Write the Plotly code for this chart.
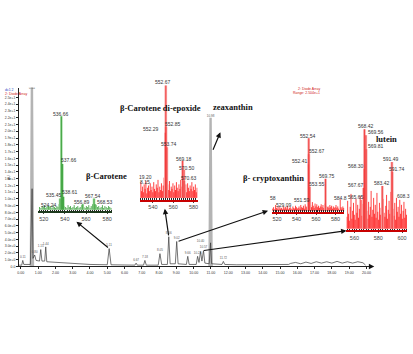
import plotly.graph_objects as go

W, H = 413, 354


def X(px):
    return px / W


def Y(py):
    return 1 - py / H


# ---------------- main chromatogram (time in min, signal) ----------------
chrom_time = [-0.10, 0.05, 0.11, 0.17, 0.55, 0.65, 0.70, 0.80, 0.88, 1.08, 1.15, 1.22,
              1.38, 1.44, 1.50, 2.0, 3.0, 4.0, 5.00, 5.11, 5.22, 6.0, 6.60, 6.67, 6.74,
              7.10, 7.18, 7.26, 7.95, 8.05, 8.15, 8.48, 8.56, 8.64, 8.94, 9.02, 9.10,
              9.58, 9.66, 9.74, 10.15, 10.23, 10.31, 10.40, 10.48, 10.57, 10.65, 10.90,
              10.98, 11.04, 11.64, 11.72, 11.80, 12.5, 13.5, 14.5, 15.5, 15.6, 15.9,
              16.2, 16.5, 16.8, 17.1, 17.4, 17.7, 18.0, 18.3, 18.6, 18.9, 19.2, 19.5,
              19.8, 19.95]
chrom_signal = [0.2, 0.2, 0.9, 0.3, 0.3, 11.5, 1.2, 1.7, 0.9, 0.8, 2.5, 0.8,
                0.8, 2.9, 0.7, 0.6, 0.45, 0.3, 0.25, 2.65, 0.25, 0.2, 0.2, 0.5, 0.2,
                0.2, 0.9, 0.2, 0.2, 1.9, 0.3, 0.3, 4.4, 0.4, 0.4, 3.7, 0.4,
                0.3, 1.5, 0.3, 0.3, 1.5, 0.6, 2.2, 0.8, 2.35, 0.5, 0.4,
                3.5, 0.4, 0.3, 0.75, 0.3, 0.25, 0.25, 0.25, 0.3, 0.45, 0.6,
                0.4, 0.65, 0.45, 0.7, 0.5, 0.7, 0.5, 0.75, 0.5, 0.7, 0.5, 0.7,
                0.55, 0.2]
# tall, saturated peaks drawn in grey
grey_time = [0.58, 0.64, 0.70, None, 10.92, 10.98, 11.04]
grey_signal = [0, 27, 0, None, 0, 22, 0]
peak_rt = [0.11, 0.64, 0.80, 1.15, 1.44, 5.11, 6.67, 7.18, 8.05, 8.56, 9.02, 9.66,
           10.23, 10.40, 10.57, 10.98, 11.72]
peak_h = [0.9, 25.9, 1.7, 2.5, 2.9, 2.65, 0.5, 0.9, 1.9, 4.4, 3.7, 1.5,
          1.5, 2.2, 2.35, 22, 0.75]
# vertical nudge of crowded retention-time labels (style only)
peak_label_lift = [0.45, 0.45, 0.45, 0.45, 0.45, 0.45, 0.45, 0.45, 0.45, 0.45, 0.45, 0.45,
                   0.45, 1.5, 0.45, 0.2, 0.45]

# ---------------- inset 1: beta-carotene (green) ----------------
g_mz = [524.24, 535.45, 536.66, 537.66, 538.61, 556.89, 567.54, 568.53]
g_h = [4, 12, 100, 49, 14, 6, 12, 6]
g_noise_mz = [516.0, 517.3, 518.5, 519.6, 520.8, 521.9, 523.0, 525.5, 526.6, 527.8,
              528.9, 530.1, 531.2, 532.4, 533.5, 534.5, 539.6, 540.7, 541.9, 543.0,
              544.2, 545.3, 546.5, 547.6, 548.8, 549.9, 551.1, 552.2, 553.4, 554.5,
              555.7, 558.0, 559.2, 560.3, 561.5, 562.6, 563.8, 564.9, 566.1, 569.7,
              570.9, 572.0, 573.2, 574.3, 575.5, 576.6, 577.8, 579.0, 580.1, 581.3,
              582.4, 583.6]
g_noise_h = [3, 2, 4, 3, 5, 2, 3, 3, 4, 2,
             5, 3, 2, 4, 3, 6, 4, 3, 2, 5,
             3, 4, 2, 3, 5, 2, 3, 4, 2, 3,
             5, 3, 2, 4, 3, 5, 2, 4, 6, 5,
             3, 4, 2, 3, 5, 2, 4, 3, 2, 4,
             3, 2]
g_lab = ["536.66", "537.66", "535.45", "538.61", "524.24", "556.89", "567.54", "568.53"]
g_lab_x = [536.8, 544.3, 529.3, 545.3, 524.7, 556.5, 566.8, 578.1]
g_lab_y = [102, 53, 16, 19, 5.3, 8.5, 15, 8.5]

# ---------------- inset 2: beta-carotene di-epoxide (red) ----------------
d_mz = [552.29, 552.67, 552.85, 553.74, 569.18, 570.50, 570.63]
d_h = [58, 100, 63, 45, 33, 25, 15]
d_noise_mz = [528.15, 528.9, 529.7, 530.6, 531.4, 532.3, 533.1, 534.0, 534.8, 535.7,
              536.5, 537.4, 538.2, 539.1, 539.9, 540.8, 541.6, 542.5, 543.3, 544.2,
              545.0, 545.9, 546.7, 547.6, 548.4, 549.3, 550.1, 551.0, 551.6, 554.6,
              555.4, 556.3, 557.1, 558.0, 558.8, 559.7, 560.5, 561.4, 562.2, 563.1,
              563.9, 564.8, 565.6, 566.5, 567.3, 568.2, 571.5, 572.4, 573.2, 574.1,
              574.9, 575.8, 576.6, 577.5, 578.3, 579.2, 580.0, 580.9, 581.7, 582.6,
              583.4]
d_noise_h = [14, 6, 10, 5, 12, 8, 15, 4, 9, 11,
             6, 13, 7, 10, 5, 14, 8, 6, 12, 9,
             16, 5, 10, 7, 13, 6, 11, 18, 9, 12,
             7, 15, 6, 10, 8, 13, 5, 11, 7, 14,
             9, 6, 12, 8, 16, 10, 7, 12, 5, 13,
             9, 6, 11, 8, 14, 6, 10, 7, 12, 5,
             9]
d_lab = ["552.67", "552.29", "552.85", "553.74", "569.18", "570.50", "570.63", "19.20", "8.15"]
d_lab_x = [549.7, 538.0, 559.5, 555.6, 570.2, 573.2, 575.1, 533.2, 532.2]
d_lab_y = [103, 61, 65.5, 48, 35, 27, 18, 19, 14.5]

# ---------------- inset 3: beta-cryptoxanthin (red) ----------------
c_mz = [552.41, 552.54, 552.67, 553.55, 569.75]
c_h = [64, 100, 78, 33, 44]
c_noise_mz = [515.6, 516.5, 517.4, 518.58, 519.3, 520.2, 521.1, 522.0, 522.9, 523.8,
              524.7, 525.6, 526.5, 527.4, 528.3, 529.09, 530.0, 530.9, 531.8, 532.7,
              533.6, 534.5, 535.4, 536.3, 537.2, 538.1, 539.0, 539.9, 540.8, 541.7,
              542.6, 543.5, 544.4, 545.3, 546.2, 547.1, 548.0, 548.9, 549.8, 550.7,
              551.59, 554.5, 555.4, 556.3, 557.2, 558.1, 559.0, 559.9, 560.8, 561.7,
              562.6, 563.5, 564.4, 565.3, 566.2, 567.1, 568.0, 568.9, 570.6, 571.5,
              572.4, 573.3, 574.2, 575.1, 576.0, 576.9, 577.8, 578.7, 579.6, 580.5,
              581.4, 582.3, 583.2, 584.8, 585.7, 586.6, 587.5, 588.4]
c_noise_h = [3, 5, 2, 8, 4, 3, 6, 2, 5, 3,
             4, 2, 6, 3, 5, 5, 3, 7, 2, 4,
             5, 3, 2, 6, 4, 3, 7, 5, 3, 4,
             6, 3, 8, 5, 4, 7, 3, 9, 6, 5,
             11, 8, 5, 12, 7, 4, 10, 6, 9, 5,
             7, 4, 6, 9, 5, 8, 4, 10, 7, 5,
             6, 4, 8, 5, 7, 3, 6, 4, 5, 8,
             4, 6, 3, 16, 5, 3, 6, 4]
c_lab = ["552.54", "552.67", "552.41", "553.55", "569.75", "551.59", "529.09", "584.8", "58"]
c_lab_x = [551.5, 560.7, 543.4, 560.7, 570.8, 545.4, 527.1, 584.6, 516.2]
c_lab_y = [103, 82, 68, 37, 48, 15, 8, 18, 18]

# ---------------- inset 4: lutein (red) ----------------
l_mz = [567.67, 568.30, 568.42, 569.56, 569.81, 583.42, 591.49, 591.74]
l_h = [41, 60, 100, 94, 80, 43, 67, 57]
l_noise_mz = [553.6, 554.3, 555.0, 555.7, 556.4, 557.1, 557.8, 558.5, 559.2, 559.9,
              560.6, 561.3, 562.0, 562.7, 563.4, 564.1, 564.8, 565.65, 566.4, 567.1,
              570.5, 571.2, 571.9, 572.6, 573.3, 574.0, 574.7, 575.4, 576.1, 576.8,
              577.5, 578.2, 578.9, 579.6, 580.3, 581.0, 581.7, 582.4, 584.2, 584.9,
              585.6, 586.3, 587.0, 587.7, 588.4, 589.1, 589.8, 590.5, 592.5, 593.2,
              593.9, 594.6, 595.3, 596.0, 596.7, 597.4, 598.1, 598.8, 599.5, 600.2,
              600.9, 601.6, 602.3, 603.0, 603.7]
l_noise_h = [12, 28, 15, 8, 22, 35, 10, 18, 26, 14,
             9, 30, 16, 24, 11, 20, 33, 29, 13, 25,
             18, 10, 27, 14, 22, 38, 12, 19, 31, 15,
             24, 11, 36, 17, 9, 26, 14, 21, 30, 16,
             12, 23, 34, 10, 19, 28, 15, 37, 20, 13,
             26, 9, 31, 17, 22, 12, 29, 15, 24, 10,
             18, 27, 11, 20, 14]
l_lab = ["568.42", "569.56", "569.81", "568.30", "567.67", "565.65", "583.42", "591.49", "591.74"]
l_lab_x = [570.0, 578.3, 578.3, 561.6, 561.6, 561.6, 583.3, 590.8, 595.8]
l_lab_y = [103, 97, 83, 63, 44, 32, 46, 70, 60]

compound_names = ["β-Carotene", "β-Carotene di-epoxide", "zeaxanthin", "β- cryptoxanthin", "lutein"]


def sticks(mz, h):
    xs, ys = [], []
    for m, v in zip(mz, h):
        xs += [m, m, None]
        ys += [0, v, None]
    return xs, ys


fig = go.Figure()

# main chromatogram
fig.add_trace(go.Scatter(x=grey_time, y=grey_signal, mode="lines",
                         line=dict(color="#b4b4b4", width=2.4), hoverinfo="skip"))
fig.add_trace(go.Scatter(x=chrom_time, y=chrom_signal, mode="lines",
                         line=dict(color="#3a3a3a", width=0.7), hoverinfo="skip"))
fig.add_trace(go.Scatter(x=peak_rt, y=[v + d for v, d in zip(peak_h, peak_label_lift)],
                         mode="text",
                         text=[f"{t:.2f}" for t in peak_rt],
                         textfont=dict(size=3.0, color="#555", family="Liberation Sans"),
                         hoverinfo="skip"))

insets = [
    ("2", g_mz, g_h, g_noise_mz, g_noise_h, "#a6dea6", "#2f9a2f", "#2f9a2f",
     g_lab, g_lab_x, g_lab_y),
    ("3", d_mz, d_h, d_noise_mz, d_noise_h, "#f7a7a7", "#f23a3a", "#ff1414",
     d_lab, d_lab_x, d_lab_y),
    ("4", c_mz, c_h, c_noise_mz, c_noise_h, "#f7a7a7", "#f23a3a", "#ff1414",
     c_lab, c_lab_x, c_lab_y),
    ("5", l_mz, l_h, l_noise_mz, l_noise_h, "#f7a7a7", "#f23a3a", "#ff1414",
     l_lab, l_lab_x, l_lab_y),
]

annotations = []
for ax_id, mz, hh, nmz, nh, halo, core, ncol, lab, lx, ly in insets:
    xa, ya = "x" + ax_id, "y" + ax_id
    sx, sy = sticks(nmz, nh)
    fig.add_trace(go.Scatter(x=sx, y=sy, xaxis=xa, yaxis=ya, mode="lines",
                             line=dict(color=ncol, width=0.8), hoverinfo="skip"))
    sx, sy = sticks(mz, hh)
    fig.add_trace(go.Scatter(x=sx, y=sy, xaxis=xa, yaxis=ya, mode="lines",
                             line=dict(color=halo, width=2.6), hoverinfo="skip"))
    fig.add_trace(go.Scatter(x=sx, y=sy, xaxis=xa, yaxis=ya, mode="lines",
                             line=dict(color=core, width=0.9), hoverinfo="skip"))
    for t, x, y in zip(lab, lx, ly):
        annotations.append(dict(x=x, y=y, xref=xa, yref=ya, text=t, showarrow=False,
                                font=dict(size=5, color="#333", family="Liberation Sans")))

# inset geometry: (left px, right px, mz lo, mz hi, baseline py, top py, base colour)
geom = {
    "2": (36.7, 111.3, 515.0, 585.0, 211, 117, "#1d3a1d"),
    "3": (139, 197, 527.3, 583.9, 199, 86, "#c80000"),
    "4": (272, 345, 514.9, 589.2, 212, 139, "#c80000"),
    "5": (347, 408, 553.3, 604.2, 230, 130, "#c80000"),
}

layout_axes = {}
for ax_id, (l, r, lo, hi, base, top, bcol) in geom.items():
    s = (base - top) / 100.0
    layout_axes["xaxis" + ax_id] = dict(
        domain=[X(l), X(r)], range=[lo, hi], anchor="y" + ax_id,
        showgrid=False, zeroline=False, showline=True, linecolor=bcol, linewidth=2,
        ticks="outside", ticklen=1, tickcolor="#444", tickwidth=0.6, tick0=0, dtick=20,
        tickfont=dict(size=5.5, color="#444", family="Liberation Sans"),
        minor=dict(ticks="inside", dtick=2, ticklen=1.5, tickcolor="#222", tickwidth=0.5),
    )
    layout_axes["yaxis" + ax_id] = dict(
        domain=[Y(base + 1.5 * s), Y(base - 104 * s)], range=[-1.5, 104],
        anchor="x" + ax_id, visible=False,
    )

# compound titles
title_pos = [(83, 177), (160, 102), (233, 101), (273, 179), (400, 140)]
for name, (px, py) in zip(compound_names, title_pos):
    annotations.append(dict(x=X(px), y=Y(py), xref="paper", yref="paper", text="<b>" + name + "</b>",
                            showarrow=False,
                            font=dict(size=8.5, color="#111", family="Liberation Serif")))

# extra text bits
annotations += [
    dict(x=X(396), y=Y(197), xref="paper", yref="paper", text="608.3", xanchor="left",
         showarrow=False, font=dict(size=5, color="#333", family="Liberation Sans")),
    dict(x=X(1), y=Y(86), xref="paper", yref="paper", text="dc1 2", xanchor="left",
         showarrow=False, font=dict(size=3.5, color="#2040c0", family="Liberation Sans")),
    dict(x=X(1), y=Y(90.5), xref="paper", yref="paper", text="2: Diode Array", xanchor="left",
         showarrow=False, font=dict(size=3.5, color="#d02020", family="Liberation Sans")),
    dict(x=X(322), y=Y(85), xref="paper", yref="paper", text="2: Diode Array",
         showarrow=False, font=dict(size=3.5, color="#d02020", family="Liberation Sans")),
    dict(x=X(322), y=Y(89.5), xref="paper", yref="paper", text="Range: 2.504e+1",
         showarrow=False, font=dict(size=3.5, color="#d02020", family="Liberation Sans")),
    dict(x=X(3), y=Y(178), xref="paper", yref="paper", text="AU", textangle=-90,
         showarrow=False, font=dict(size=3.5, color="#333", family="Liberation Sans")),
]

# arrows (head px, tail px)
arrow_list = [((75, 223), (108, 250)), ((164, 210), (168, 238)), ((220, 133), (212, 152)),
              ((268, 212), (177, 243)), ((347, 232), (203, 252)), ((375, 268), (369, 268))]
for (hx, hy), (tx, ty) in arrow_list:
    annotations.append(dict(x=X(hx), y=Y(hy), xref="paper", yref="paper",
                            ax=tx - hx, ay=ty - hy, axref="pixel", ayref="pixel",
                            text="", showarrow=True, arrowhead=2, arrowsize=0.9,
                            arrowwidth=1.2, arrowcolor="#111"))

# main axes
y_ticks = list(range(0, 26))
y_text = []
for v in y_ticks:
    if v == 0:
        y_text.append("0.0")
    elif v < 10:
        y_text.append(f"{v:.1f}e+0")
    else:
        y_text.append(f"{v / 10:.1f}e+1")

fig.update_layout(
    width=W, height=H, margin=dict(l=0, r=0, t=0, b=0),
    paper_bgcolor="white", plot_bgcolor="rgba(0,0,0,0)", showlegend=False,
    xaxis=dict(domain=[X(17), X(373)], range=[-0.115, 20.34], anchor="y",
               showgrid=False, zeroline=False, showline=True, linecolor="#222", linewidth=0.8,
               ticks="outside", ticklen=2, tickwidth=0.6, tickcolor="#222",
               tick0=0, dtick=1, tickformat=".2f",
               tickfont=dict(size=3.6, color="#333", family="Liberation Sans")),
    yaxis=dict(domain=[Y(268), Y(88)], range=[0, 26.47], anchor="x",
               showgrid=False, zeroline=False, showline=True, linecolor="#222", linewidth=0.8,
               ticks="outside", ticklen=2, tickwidth=0.6, tickcolor="#222",
               tickvals=y_ticks, ticktext=y_text,
               tickfont=dict(size=3.4, color="#333", family="Liberation Sans")),
    annotations=annotations,
    **layout_axes,
)

fig.write_html("out.html")
